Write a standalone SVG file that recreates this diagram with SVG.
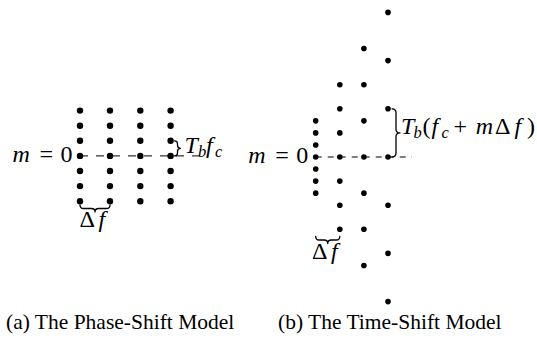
<svg xmlns="http://www.w3.org/2000/svg" width="537" height="341" viewBox="0 0 537 341">
<style>
.da{fill:#000}
.db{fill:#000}
.dash{stroke:#000;stroke-width:1;fill:none}
.brace{stroke:#000;stroke-width:1.3;fill:none;stroke-linejoin:round;stroke-linecap:round}
text{font-family:"Liberation Serif",serif;fill:#000}
.m{font-size:24px}
.i{font-style:italic}
.s{font-size:16.5px;font-style:italic}
.cap{font-size:21.5px}
</style>
<rect width="537" height="341" fill="#fff"/>
<g id="connectors">
<path class="dash" d="M80,155.9H200" stroke-dasharray="8 8"/>
<path class="dash" d="M315.7,157H412" stroke-dasharray="6 6"/>
<path class="brace" d="M174.5,140.8 Q177.5,140.8 177.5,143.8 L177.5,145.35 Q177.5,148.35 180.5,148.35 Q177.5,148.35 177.5,151.35 L177.5,152.9 Q177.5,155.9 174.5,155.9"/>
<path class="brace" d="M80,205 Q80,208.5 83.5,208.5 L91.5,208.5 Q95,208.5 95,212 Q95,208.5 98.5,208.5 L106.5,208.5 Q110,208.5 110,205"/>
<path class="brace" d="M392,108.8 Q396,108.8 396,112.8 L396,128.9 Q396,132.9 400,132.9 Q396,132.9 396,136.9 L396,153 Q396,157 392,157"/>
<path class="brace" d="M315.7,236.5 Q315.7,240 319.2,240 L324.25,240 Q327.75,240 327.75,243.5 Q327.75,240 331.25,240 L336.3,240 Q339.8,240 339.8,236.5"/>
</g>
<g id="dots-a">
<circle class="da" cx="80" cy="110.6" r="3.2"/><circle class="da" cx="80" cy="125.7" r="3.2"/><circle class="da" cx="80" cy="140.8" r="3.2"/><circle class="da" cx="80" cy="155.9" r="3.2"/><circle class="da" cx="80" cy="171" r="3.2"/><circle class="da" cx="80" cy="186.1" r="3.2"/><circle class="da" cx="80" cy="201.2" r="3.2"/>
<circle class="da" cx="110" cy="110.6" r="3.2"/><circle class="da" cx="110" cy="125.7" r="3.2"/><circle class="da" cx="110" cy="140.8" r="3.2"/><circle class="da" cx="110" cy="155.9" r="3.2"/><circle class="da" cx="110" cy="171" r="3.2"/><circle class="da" cx="110" cy="186.1" r="3.2"/><circle class="da" cx="110" cy="201.2" r="3.2"/>
<circle class="da" cx="140.3" cy="110.6" r="3.2"/><circle class="da" cx="140.3" cy="125.7" r="3.2"/><circle class="da" cx="140.3" cy="140.8" r="3.2"/><circle class="da" cx="140.3" cy="155.9" r="3.2"/><circle class="da" cx="140.3" cy="171" r="3.2"/><circle class="da" cx="140.3" cy="186.1" r="3.2"/><circle class="da" cx="140.3" cy="201.2" r="3.2"/>
<circle class="da" cx="170.6" cy="110.6" r="3.2"/><circle class="da" cx="170.6" cy="125.7" r="3.2"/><circle class="da" cx="170.6" cy="140.8" r="3.2"/><circle class="da" cx="170.6" cy="155.9" r="3.2"/><circle class="da" cx="170.6" cy="171" r="3.2"/><circle class="da" cx="170.6" cy="186.1" r="3.2"/><circle class="da" cx="170.6" cy="201.2" r="3.2"/>
</g>
<g id="dots-b">
<circle class="db" cx="315.7" cy="120.85" r="2.8"/><circle class="db" cx="315.7" cy="132.9" r="2.8"/><circle class="db" cx="315.7" cy="144.95" r="2.8"/><circle class="db" cx="315.7" cy="157" r="2.8"/><circle class="db" cx="315.7" cy="169.05" r="2.8"/><circle class="db" cx="315.7" cy="181.1" r="2.8"/><circle class="db" cx="315.7" cy="193.15" r="2.8"/>
<circle class="db" cx="339.8" cy="84.7" r="2.8"/><circle class="db" cx="339.8" cy="108.8" r="2.8"/><circle class="db" cx="339.8" cy="132.9" r="2.8"/><circle class="db" cx="339.8" cy="157" r="2.8"/><circle class="db" cx="339.8" cy="181.1" r="2.8"/><circle class="db" cx="339.8" cy="205.2" r="2.8"/><circle class="db" cx="339.8" cy="229.3" r="2.8"/>
<circle class="db" cx="363.9" cy="48.55" r="2.8"/><circle class="db" cx="363.9" cy="84.7" r="2.8"/><circle class="db" cx="363.9" cy="120.85" r="2.8"/><circle class="db" cx="363.9" cy="157" r="2.8"/><circle class="db" cx="363.9" cy="193.15" r="2.8"/><circle class="db" cx="363.9" cy="229.3" r="2.8"/><circle class="db" cx="363.9" cy="265.45" r="2.8"/>
<circle class="db" cx="388" cy="12.4" r="2.8"/><circle class="db" cx="388" cy="60.6" r="2.8"/><circle class="db" cx="388" cy="108.8" r="2.8"/><circle class="db" cx="388" cy="157" r="2.8"/><circle class="db" cx="388" cy="205.2" r="2.8"/><circle class="db" cx="388" cy="253.4" r="2.8"/><circle class="db" cx="388" cy="301.6" r="2.8"/>
</g>
<g id="label-m0-a">
<text class="m i" x="12.5" y="162">m</text><text class="m" x="39.5" y="162">=</text><text class="m" x="60.5" y="162">0</text>
</g>
<g id="label-tbfc-a">
<text class="m i" x="184.5" y="153">T</text><text class="s" x="198" y="156.6">b</text><text class="m i" x="206" y="153">f</text><text class="s" x="215" y="156.6">c</text>
</g>
<g id="label-df-a">
<text class="m" x="79.5" y="227">Δ</text><text class="m i" x="98.5" y="227">f</text>
</g>
<g id="label-m0-b">
<text class="m i" x="248.2" y="163.2">m</text><text class="m" x="275.2" y="163.2">=</text><text class="m" x="296.2" y="163.2">0</text>
</g>
<g id="label-tb-b">
<text class="m i" x="401" y="134">T</text><text class="s" x="413.6" y="137.6">b</text><text class="m" x="422.6" y="134">(</text><text class="m i" x="431.5" y="134">f</text><text class="s" x="441.5" y="137.6">c</text><text class="m" x="453.5" y="134">+</text><text class="m i" x="475.8" y="134">m</text><text class="m" x="495" y="134">Δ</text><text class="m i" x="514.5" y="134">f</text><text class="m" x="527" y="134">)</text>
</g>
<g id="label-df-b">
<text class="m" x="312" y="259">Δ</text><text class="m i" x="331" y="259">f</text>
</g>
<g id="captions">
<text class="cap" x="6" y="329">(a) The Phase-Shift Model</text>
<text class="cap" x="278" y="329">(b) The Time-Shift Model</text>
</g>
</svg>
